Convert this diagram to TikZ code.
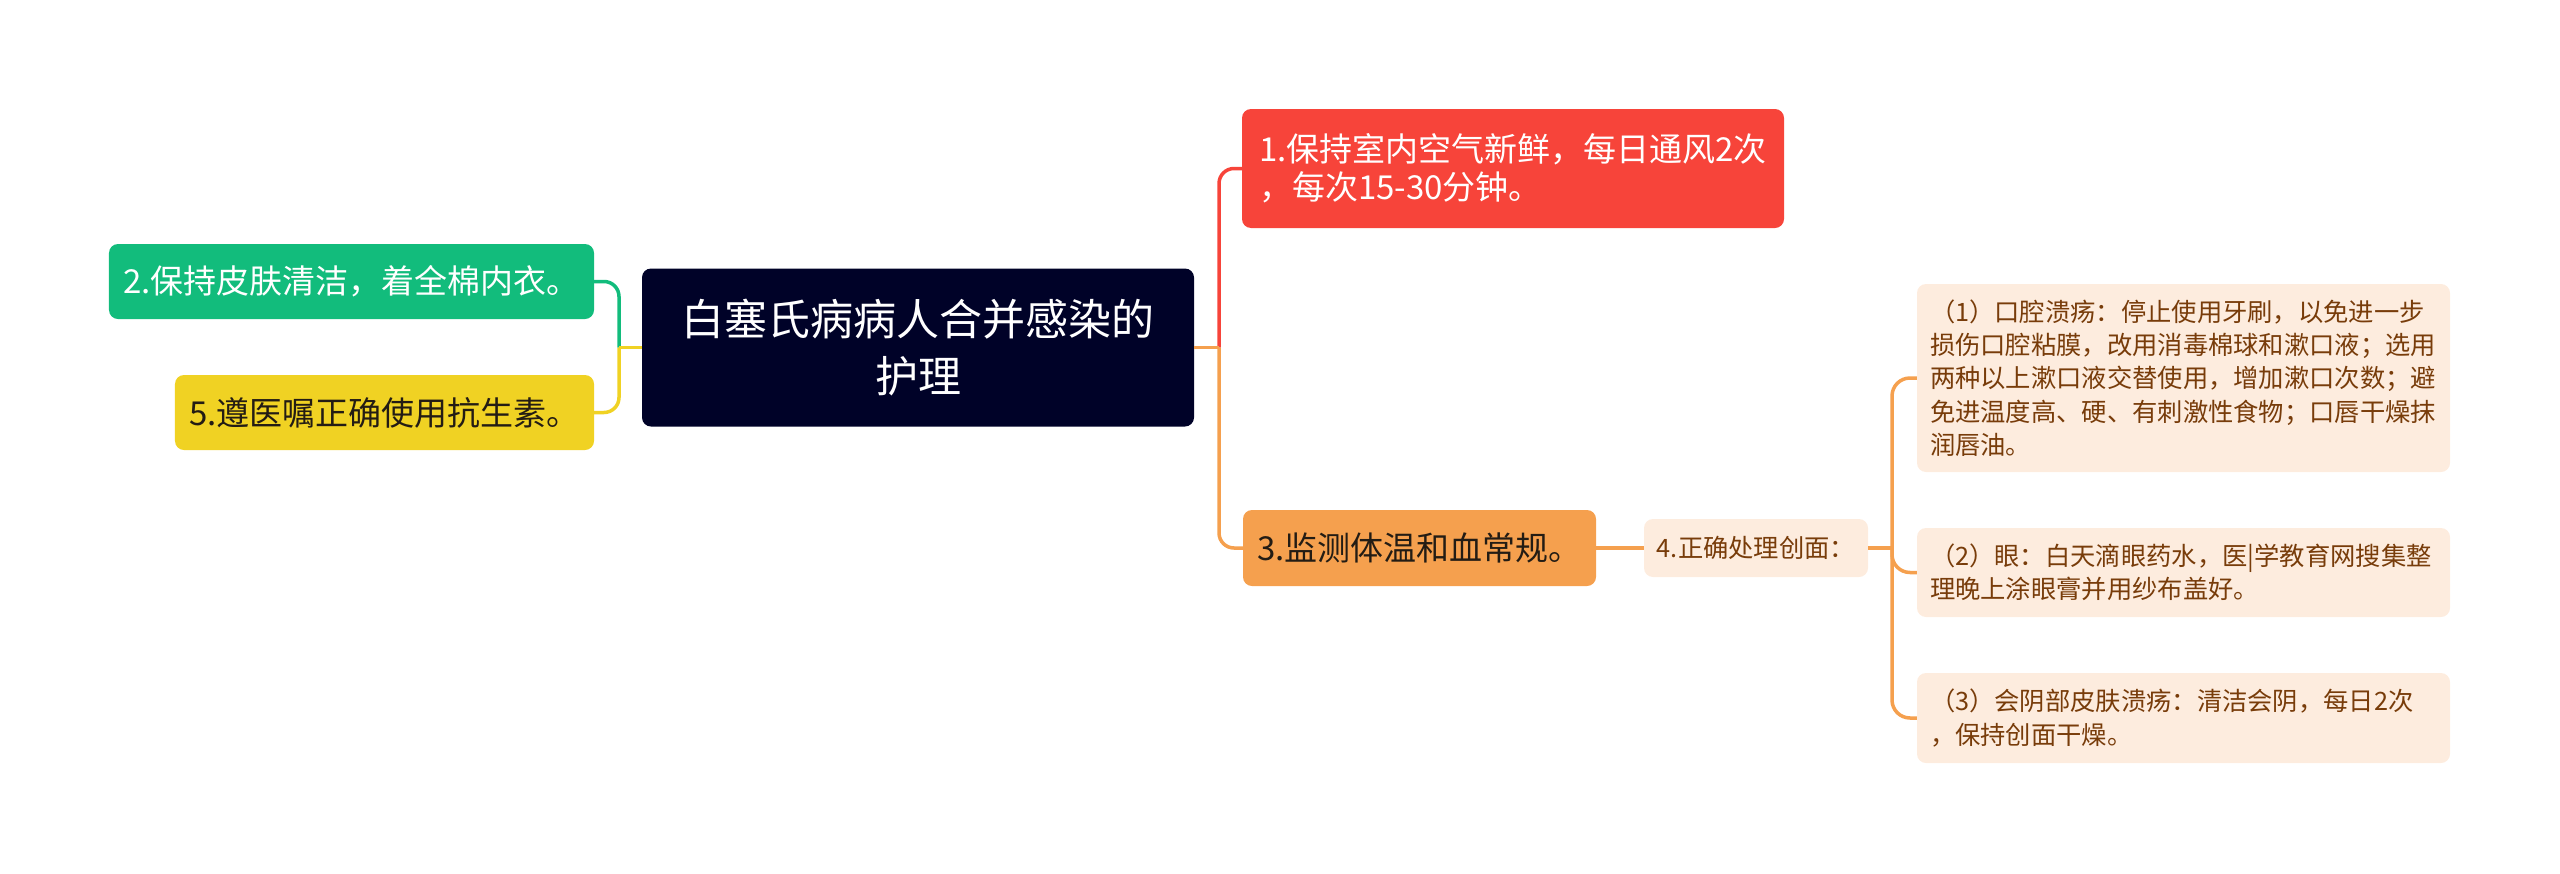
\documentclass[tikz,border=0pt]{standalone}
\usepackage{fontspec}
\setmainfont{Noto Sans CJK SC}
\definecolor{navy}{RGB}{0,2,40}
\definecolor{greenc}{RGB}{18,188,124}
\definecolor{yellowc}{RGB}{240,210,35}
\definecolor{redc}{RGB}{247,68,58}
\definecolor{orangec}{RGB}{245,160,78}
\definecolor{peach}{RGB}{253,236,222}
\definecolor{brownt}{RGB}{120,60,10}
\definecolor{darkt}{RGB}{35,28,20}
\begin{document}
\begin{tikzpicture}[x=1bp,y=-1bp]
\tikzset{
  topic/.style={rounded corners=9bp, inner sep=0pt, anchor=center},
  lvlone/.style={topic, font=\fontsize{33bp}{38bp}\selectfont, align=left},
  sub/.style={topic, fill=peach, text=brownt, font=\fontsize{25.3bp}{33.3bp}\selectfont},
  conn/.style={line width=3.5bp},
}
\useasboundingbox (0,0) rectangle (2560,873);
% nodes
\node[topic, fill=navy, text=white, minimum width=552bp, minimum height=158bp,
      font=\fontsize{43bp}{57bp}\selectfont, align=center] (root) at (918,347.5) {白塞氏病病人合并感染的\\护理};
\node[lvlone, fill=greenc, text=white, minimum width=485bp, minimum height=75bp] (n2) at (351.5,281.5) {2.保持皮肤清洁，着全棉内衣。};
\node[lvlone, fill=yellowc, text=darkt, minimum width=419bp, minimum height=75bp] (n5) at (384.5,412.5) {5.遵医嘱正确使用抗生素。};
\node[lvlone, fill=redc, text=white, minimum width=542bp, minimum height=119bp] (n1) at (1513,168.5) {1.保持室内空气新鲜，每日通风2次\\，每次15-30分钟。};
\node[lvlone, fill=orangec, text=darkt, minimum width=353bp, minimum height=76bp] (n3) at (1419.5,548) {3.监测体温和血常规。};
\node[sub, minimum width=224bp, minimum height=58bp] (n4) at (1756,548) {4.正确处理创面：};
\node[sub, minimum width=533bp, minimum height=188bp, text width=507bp, inner xsep=13bp, align=left] (c1) at (2183.5,378)
  {（1）口腔溃疡：停止使用牙刷，以免进一步\\损伤口腔粘膜，改用消毒棉球和漱口液；选用\\两种以上漱口液交替使用，增加漱口次数；避\\免进温度高、硬、有刺激性食物；口唇干燥抹\\润唇油。};
\node[sub, minimum width=533bp, minimum height=89bp, text width=507bp, inner xsep=13bp, align=left] (c2) at (2183.5,572.5)
  {（2）眼：白天滴眼药水，医|学教育网搜集整\\理晚上涂眼膏并用纱布盖好。};
\node[sub, minimum width=533bp, minimum height=90bp, text width=507bp, inner xsep=13bp, align=left] (c3) at (2183.5,718)
  {（3）会阴部皮肤溃疡：清洁会阴，每日2次\\，保持创面干燥。};
% junctions
\coordinate (jL) at (619,347.5);
\coordinate (jR) at (1219,347.5);
\coordinate (jC) at (1892,548);
% connectors
\draw[conn, redc, rounded corners=15bp] (jR) |- (n1.west);
\draw[conn, orangec] (root.east) -- (jR);
\draw[conn, orangec, rounded corners=15bp] (jR) |- (n3.west);
\draw[conn, greenc, rounded corners=15bp] (jL) |- (n2.east);
\draw[conn, yellowc] (root.west) -- (jL);
\draw[conn, yellowc, rounded corners=15bp] (jL) |- (n5.east);
\draw[conn, orangec] (n3.east) -- (n4.west);
\draw[conn, orangec] (n4.east) -- (jC);
\draw[conn, orangec, rounded corners=18bp] (jC) |- (c1.west);
\draw[conn, orangec, rounded corners=18bp] (jC) |- (c2.west);
\draw[conn, orangec, rounded corners=18bp] (jC) |- (c3.west);
\end{tikzpicture}
\end{document}
